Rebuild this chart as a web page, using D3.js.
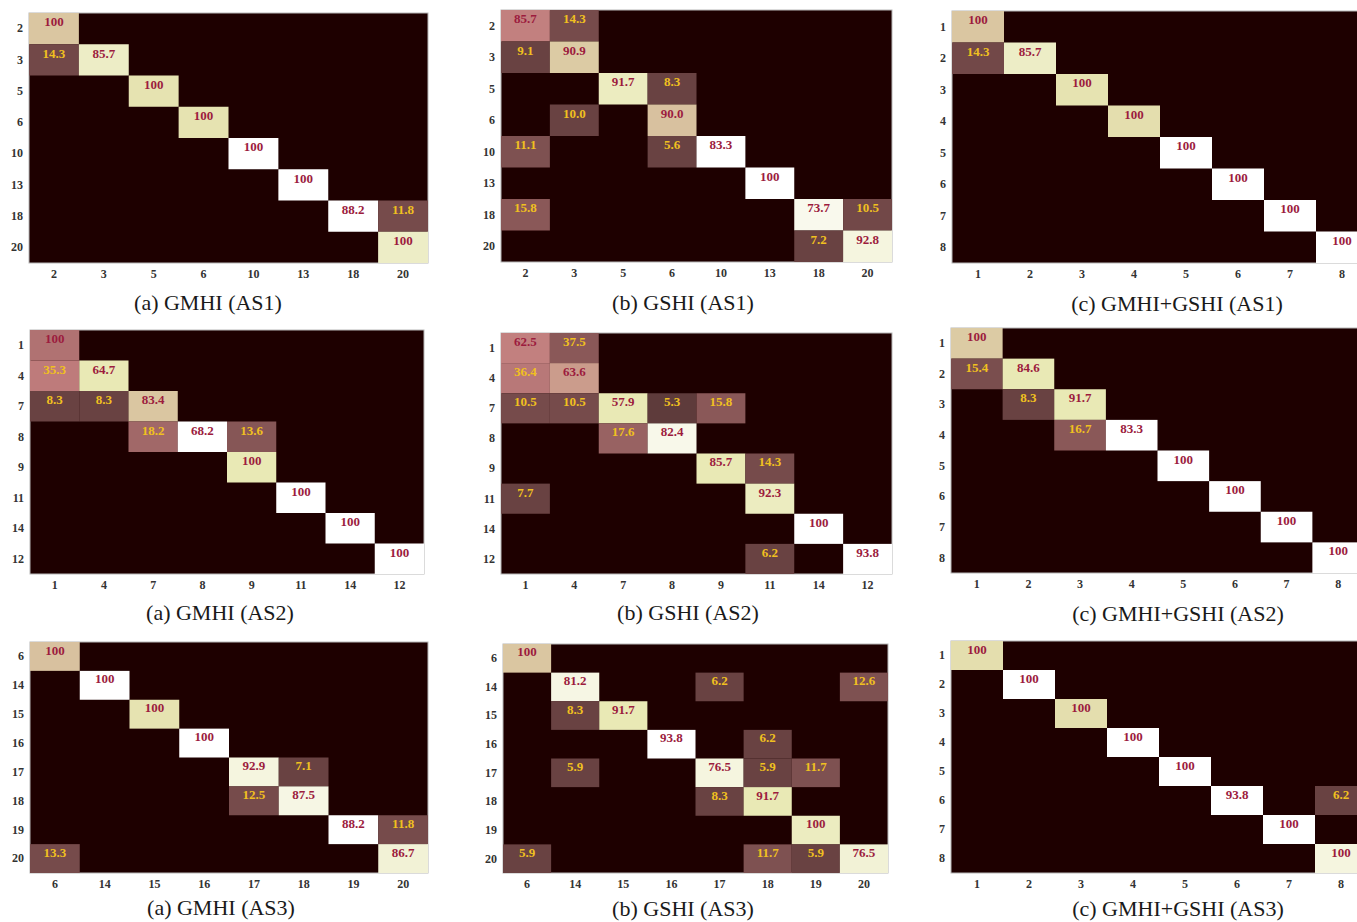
<!DOCTYPE html>
<html>
<head>
<meta charset="utf-8">
<script src="https://cdn.jsdelivr.net/npm/d3@7.9.0/dist/d3.min.js"></script>
<style>
  body { margin: 0; background: #fff; }
  svg { display: block; }
  .tick text { font-family: "Liberation Serif", "Times New Roman", serif; font-weight: bold; font-size: 12px; fill: #333; }
  .val { font-family: "Liberation Serif", "Times New Roman", serif; font-weight: bold; font-size: 13px; }
  .cap { font-family: "Liberation Serif", "Times New Roman", serif; font-size: 22px; fill: #1a1a1a; }
</style>
</head>
<body>
<svg width="1357" height="922"></svg>
<script>
// class labels for each assessment set
const labelsAS1 = ['2', '3', '5', '6', '10', '13', '18', '20'];
const labelsAS2 = ['1', '4', '7', '8', '9', '11', '14', '12'];
const labelsAS3 = ['6', '14', '15', '16', '17', '18', '19', '20'];
const labelsFused = ['1', '2', '3', '4', '5', '6', '7', '8'];

// cells: [row, col, percent, shade (0..1 colour level)]
const gmhiAS1 = [
  [0, 0, 100, 0.6], [1, 0, 14.3, 0.12], [1, 1, 85.7, 0.8], [2, 2, 100, 0.72],
  [3, 3, 100, 0.72], [4, 4, 100, 1], [5, 5, 100, 1], [6, 6, 88.2, 1],
  [6, 7, 11.8, 0.13], [7, 7, 100, 0.8]
];
const gshiAS1 = [
  [0, 0, 85.7, 0.37], [0, 1, 14.3, 0.13], [1, 0, 9.1, 0.1], [1, 1, 90.9, 0.62],
  [2, 2, 91.7, 0.78], [2, 3, 8.3, 0.1], [3, 1, 10.0, 0.1], [3, 3, 90.0, 0.58],
  [4, 0, 11.1, 0.15], [4, 3, 5.6, 0.1], [4, 4, 83.3, 1], [5, 5, 100, 1],
  [6, 0, 15.8, 0.18], [6, 6, 73.7, 0.93], [6, 7, 10.5, 0.12], [7, 6, 7.2, 0.1],
  [7, 7, 92.8, 0.88]
];
const fusedAS1 = [
  [0, 0, 100, 0.6], [1, 0, 14.3, 0.12], [1, 1, 85.7, 0.8], [2, 2, 100, 0.72],
  [3, 3, 100, 0.7], [4, 4, 100, 1], [5, 5, 100, 1], [6, 6, 100, 1], [7, 7, 100, 1]
];
const gmhiAS2 = [
  [0, 0, 100, 0.3], [1, 0, 35.3, 0.35], [1, 1, 64.7, 0.75], [2, 0, 8.3, 0.1],
  [2, 1, 8.3, 0.1], [2, 2, 83.4, 0.6], [3, 2, 18.2, 0.25], [3, 3, 68.2, 1],
  [3, 4, 13.6, 0.17], [4, 4, 100, 0.75], [5, 5, 100, 1], [6, 6, 100, 1], [7, 7, 100, 1]
];
const gshiAS2 = [
  [0, 0, 62.5, 0.37], [0, 1, 37.5, 0.18], [1, 0, 36.4, 0.33], [1, 1, 63.6, 0.45],
  [2, 0, 10.5, 0.13], [2, 1, 10.5, 0.13], [2, 2, 57.9, 0.75], [2, 3, 5.3, 0.08],
  [2, 4, 15.8, 0.18], [3, 2, 17.6, 0.22], [3, 3, 82.4, 0.92], [4, 4, 85.7, 0.75],
  [4, 5, 14.3, 0.13], [5, 0, 7.7, 0.1], [5, 5, 92.3, 0.78], [6, 6, 100, 1],
  [7, 5, 6.2, 0.1], [7, 7, 93.8, 1]
];
const fusedAS2 = [
  [0, 0, 100, 0.62], [1, 0, 15.4, 0.14], [1, 1, 84.6, 0.75], [2, 1, 8.3, 0.1],
  [2, 2, 91.7, 0.75], [3, 2, 16.7, 0.18], [3, 3, 83.3, 1], [4, 4, 100, 1],
  [5, 5, 100, 1], [6, 6, 100, 1], [7, 7, 100, 1]
];
const gmhiAS3 = [
  [0, 0, 100, 0.58], [1, 1, 100, 1], [2, 2, 100, 0.72], [3, 3, 100, 1],
  [4, 4, 92.9, 0.88], [4, 5, 7.1, 0.1], [5, 4, 12.5, 0.13], [5, 5, 87.5, 0.9],
  [6, 6, 88.2, 1], [6, 7, 11.8, 0.13], [7, 0, 13.3, 0.13], [7, 7, 86.7, 0.85]
];
const gshiAS3 = [
  [0, 0, 100, 0.6], [1, 1, 81.2, 0.9], [1, 4, 6.2, 0.1], [1, 7, 12.6, 0.15],
  [2, 1, 8.3, 0.1], [2, 2, 91.7, 0.75], [3, 3, 93.8, 1], [3, 5, 6.2, 0.1],
  [4, 1, 5.9, 0.1], [4, 4, 76.5, 0.88], [4, 5, 5.9, 0.1], [4, 6, 11.7, 0.15],
  [5, 4, 8.3, 0.1], [5, 5, 91.7, 0.75], [6, 6, 100, 0.78], [7, 0, 5.9, 0.1],
  [7, 5, 11.7, 0.15], [7, 6, 5.9, 0.1], [7, 7, 76.5, 0.85]
];
const fusedAS3 = [
  [0, 0, 100, 0.7], [1, 1, 100, 1], [2, 2, 100, 0.7], [3, 3, 100, 1],
  [4, 4, 100, 1], [5, 5, 93.8, 1], [5, 7, 6.2, 0.1], [6, 6, 100, 1], [7, 7, 100, 0.88]
];

// panel placement on the page
const panels = [
  { labels: labelsAS1, cells: gmhiAS1, caption: '(a) GMHI (AS1)', x0: 29, x1: 428, y0: 13, y1: 263, cx: 208, cy: 310 },
  { labels: labelsAS1, cells: gshiAS1, caption: '(b) GSHI (AS1)', x0: 501, x1: 892, y0: 10, y1: 262, cx: 683, cy: 310 },
  { labels: labelsFused, cells: fusedAS1, caption: '(c) GMHI+GSHI (AS1)', x0: 952, x1: 1368, y0: 11, y1: 263, cx: 1177, cy: 311 },
  { labels: labelsAS2, cells: gmhiAS2, caption: '(a) GMHI (AS2)', x0: 30, x1: 424, y0: 330, y1: 574, cx: 220, cy: 620 },
  { labels: labelsAS2, cells: gshiAS2, caption: '(b) GSHI (AS2)', x0: 501, x1: 892, y0: 333, y1: 574, cx: 688, cy: 620 },
  { labels: labelsFused, cells: fusedAS2, caption: '(c) GMHI+GSHI (AS2)', x0: 951, x1: 1364, y0: 328, y1: 573, cx: 1178, cy: 621 },
  { labels: labelsAS3, cells: gmhiAS3, caption: '(a) GMHI (AS3)', x0: 30, x1: 428, y0: 642, y1: 873, cx: 221, cy: 915 },
  { labels: labelsAS3, cells: gshiAS3, caption: '(b) GSHI (AS3)', x0: 503, x1: 888, y0: 644, y1: 873, cx: 683, cy: 916 },
  { labels: labelsFused, cells: fusedAS3, caption: '(c) GMHI+GSHI (AS3)', x0: 951, x1: 1367, y0: 641, y1: 873, cx: 1178, cy: 916 }
];

// MATLAB-like "pink" colormap
function pink(t) {
  const i = t * 63 + 1;
  const cl = v => Math.max(0, Math.min(1, v));
  const hr = cl(i / 24), hg = cl((i - 24) / 24), hb = cl((i - 48) / 16);
  const f = h => Math.round(255 * Math.sqrt((2 * t + h) / 3));
  return `rgb(${f(hr)},${f(hg)},${f(hb)})`;
}
const color = d3.scaleSequential(pink).domain([0, 1]);

const svg = d3.select('svg');
const fmt = v => v === 100 ? '100' : v.toFixed(1);

panels.forEach(p => {
  const x = d3.scaleBand().domain(p.labels).range([p.x0, p.x1]);
  const y = d3.scaleBand().domain(p.labels).range([p.y0, p.y1]);
  const g = svg.append('g');

  g.append('rect')
    .attr('x', p.x0).attr('y', p.y0)
    .attr('width', p.x1 - p.x0).attr('height', p.y1 - p.y0)
    .attr('fill', color(0))
    .attr('stroke', '#b8b8b8').attr('stroke-width', 1);

  g.selectAll('rect.cell')
    .data(p.cells)
    .join('rect')
    .attr('class', 'cell')
    .attr('x', d => x(p.labels[d[1]]))
    .attr('y', d => y(p.labels[d[0]]))
    .attr('width', x.bandwidth())
    .attr('height', y.bandwidth())
    .attr('fill', d => color(d[3]));

  g.selectAll('text.val')
    .data(p.cells)
    .join('text')
    .attr('class', 'val')
    .attr('x', d => x(p.labels[d[1]]) + x.bandwidth() / 2)
    .attr('y', d => y(p.labels[d[0]]) + y.bandwidth() * 0.33)
    .attr('text-anchor', 'middle')
    .attr('dominant-baseline', 'middle')
    .attr('fill', d => d[2] >= 50 ? '#9c1c3e' : '#f0c020')
    .text(d => fmt(d[2]));

  const xAxis = g.append('g')
    .attr('transform', `translate(0,${p.y1 + 2})`)
    .call(d3.axisBottom(x).tickSize(0).tickPadding(4));
  xAxis.select('.domain').remove();

  const yAxis = g.append('g')
    .attr('transform', `translate(${p.x0 - 3},0)`)
    .call(d3.axisLeft(y).tickSize(0).tickPadding(3));
  yAxis.select('.domain').remove();

  g.append('text')
    .attr('class', 'cap')
    .attr('x', p.cx).attr('y', p.cy)
    .attr('text-anchor', 'middle')
    .text(p.caption);
});
</script>
</body>
</html>
